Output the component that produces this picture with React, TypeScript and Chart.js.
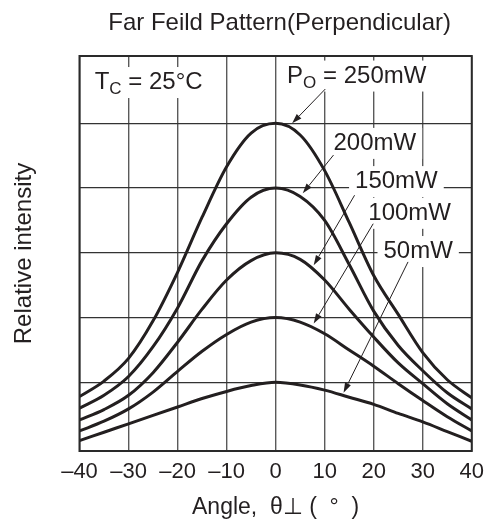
import { useEffect, useRef } from 'react';
import { Chart, registerables } from 'chart.js';

Chart.register(...registerables);

// ---- data ----
const angles = [-40, -35, -30, -25, -20, -15, -10, -5, 0, 5, 10, 15, 20, 25, 30, 35, 40];
const p250 = [0.78, 1.02, 1.37, 1.95, 2.7, 3.55, 4.33, 4.85, 5.0, 4.82, 4.27, 3.47, 2.65, 2.05, 1.46, 1.04, 0.76];
const p200 = [0.6, 0.8, 1.09, 1.55, 2.15, 2.88, 3.45, 3.86, 4.0, 3.87, 3.5, 2.82, 2.1, 1.57, 1.18, 0.84, 0.59];
const p150 = [0.42, 0.58, 0.8, 1.15, 1.62, 2.13, 2.58, 2.88, 3.0, 2.9, 2.58, 2.13, 1.7, 1.3, 0.98, 0.67, 0.42];
const p100 = [0.25, 0.4, 0.59, 0.85, 1.17, 1.48, 1.74, 1.93, 2.0, 1.93, 1.75, 1.5, 1.25, 0.98, 0.72, 0.47, 0.25];
const p50 = [0.1, 0.23, 0.36, 0.49, 0.62, 0.75, 0.86, 0.95, 1.0, 0.96, 0.88, 0.77, 0.66, 0.52, 0.39, 0.24, 0.09];
const seriesLabels = ['250mW', '200mW', '150mW', '100mW', '50mW'];
const seriesValues = [p250, p200, p150, p100, p50];
const xTickValues = [-40, -30, -20, -10, 0, 10, 20, 30, 40];
const xTickLabels = ['–40', '–30', '–20', '–10', '0', '10', '20', '30', '40'];
const yGridValues = [1, 2, 3, 4, 5];
const chartTitle = 'Far Feild Pattern(Perpendicular)';
const xTitle = 'Angle,  θ⊥ (  °  )';
const yTitle = 'Relative intensity';

// ---- annotations (data coordinates) ----
type Part = { t: string; sub?: boolean };
const notes: { parts: Part[]; x: number; y: number }[] = [
  { parts: [{ t: 'T' }, { t: 'C', sub: true }, { t: ' = 25°C' }], x: -36.9, y: 5.53 },
  { parts: [{ t: 'P' }, { t: 'O', sub: true }, { t: ' = 250mW' }], x: 2.34, y: 5.63 },
  { parts: [{ t: '200mW' }], x: 11.8, y: 4.59 },
  { parts: [{ t: '150mW' }], x: 16.2, y: 4.0 },
  { parts: [{ t: '100mW' }], x: 18.9, y: 3.51 },
  { parts: [{ t: '50mW' }], x: 22.0, y: 2.92 },
];
const arrows: number[][] = [
  [10.13, 5.53, 3.36, 5.0],
  [11.8, 4.51, 5.53, 3.92],
  [16.1, 3.89, 7.76, 2.81],
  [19.9, 3.45, 7.76, 1.91],
  [27.0, 2.86, 13.85, 0.84],
];

const FAMILY = '"Liberation Sans", Arial, Helvetica, sans-serif';
const INK = '#231f20';
const MAIN_PX = 24;
const SUB_PX = 17;

function partsWidth(ctx: CanvasRenderingContext2D, parts: Part[]) {
  let w = 0;
  for (const p of parts) {
    ctx.font = `${p.sub ? SUB_PX : MAIN_PX}px ${FAMILY}`;
    w += ctx.measureText(p.t).width;
  }
  return w;
}

const overlay = {
  id: 'overlay',
  beforeDatasetsDraw(chart: any) {
    const { ctx, scales } = chart;
    const sx = scales.x, sy = scales.y;
    ctx.save();
    ctx.fillStyle = '#ffffff';
    for (const n of notes) {
      const w = partsWidth(ctx, n.parts);
      const px = sx.getPixelForValue(n.x);
      const py = sy.getPixelForValue(n.y);
      ctx.fillRect(px - 6, py - 22, w + 12, 31);
    }
    ctx.restore();
  },
  afterDatasetsDraw(chart: any) {
    const { ctx, scales, chartArea: a } = chart;
    const sx = scales.x, sy = scales.y;
    ctx.save();
    // frame
    ctx.strokeStyle = '#2a2a2a';
    ctx.lineWidth = 2;
    ctx.strokeRect(a.left, a.top, a.right - a.left, a.bottom - a.top);
    // arrows
    ctx.strokeStyle = INK;
    ctx.fillStyle = INK;
    ctx.lineWidth = 1;
    for (const [x1, y1, x2, y2] of arrows) {
      const ax = sx.getPixelForValue(x1), ay = sy.getPixelForValue(y1);
      const bx = sx.getPixelForValue(x2), by = sy.getPixelForValue(y2);
      const ang = Math.atan2(by - ay, bx - ax);
      const L = 10, H = 3.2;
      const cx = bx - L * Math.cos(ang), cy = by - L * Math.sin(ang);
      ctx.beginPath();
      ctx.moveTo(ax, ay);
      ctx.lineTo(cx, cy);
      ctx.stroke();
      ctx.beginPath();
      ctx.moveTo(bx, by);
      ctx.lineTo(cx + H * Math.sin(ang), cy - H * Math.cos(ang));
      ctx.lineTo(cx - H * Math.sin(ang), cy + H * Math.cos(ang));
      ctx.closePath();
      ctx.fill();
    }
    // texts
    ctx.textBaseline = 'alphabetic';
    ctx.textAlign = 'left';
    for (const n of notes) {
      let px = sx.getPixelForValue(n.x);
      const py = sy.getPixelForValue(n.y);
      for (const p of n.parts) {
        ctx.font = `${p.sub ? SUB_PX : MAIN_PX}px ${FAMILY}`;
        ctx.fillText(p.t, px, p.sub ? py + 5 : py);
        px += ctx.measureText(p.t).width;
      }
    }
    ctx.restore();
  },
  afterDraw(chart: any) {
    const { ctx, chartArea: a } = chart;
    ctx.save();
    ctx.fillStyle = INK;
    ctx.font = `${MAIN_PX}px ${FAMILY}`;
    ctx.textAlign = 'center';
    ctx.textBaseline = 'middle';
    ctx.fillText(chartTitle, (a.left + a.right) / 2 + 4, 23);
    ctx.restore();
  },
};

export default function App() {
  const ref = useRef<HTMLCanvasElement | null>(null);
  useEffect(() => {
    if (!ref.current) return;
    const chart = new Chart(ref.current, {
      type: 'line',
      data: {
        datasets: seriesValues.map((vals, i) => ({
          label: seriesLabels[i],
          data: angles.map((a, j) => ({ x: a, y: vals[j] })),
          borderColor: INK,
          borderWidth: 3,
          pointRadius: 0,
          fill: false,
          cubicInterpolationMode: 'monotone' as const,
        })),
      },
      options: {
        animation: false,
        responsive: true,
        maintainAspectRatio: false,
        layout: { padding: { top: 56, right: 18, left: 0, bottom: 0 } },
        plugins: { legend: { display: false }, title: { display: false }, tooltip: { enabled: false } },
        scales: {
          x: {
            type: 'linear',
            min: -40,
            max: 40,
            afterBuildTicks: (s: any) => { s.ticks = xTickValues.map((v) => ({ value: v })); },
            afterFit: (s: any) => { s.height = 72; },
            grid: { color: '#5a5a5a', lineWidth: 1.4, drawTicks: false },
            border: { display: false },
            ticks: {
              padding: 8,
              color: INK,
              font: { family: FAMILY, size: 22 },
              maxRotation: 0,
              autoSkip: false,
              callback: (v: any) => {
                const i = xTickValues.indexOf(Number(v));
                return i >= 0 ? xTickLabels[i] : '';
              },
            },
            title: { display: true, text: xTitle, color: INK, font: { family: FAMILY, size: 23 }, padding: { top: 0, bottom: 2 } },
          },
          y: {
            type: 'linear',
            min: -0.06,
            max: 6.04,
            afterBuildTicks: (s: any) => { s.ticks = yGridValues.map((v) => ({ value: v })); },
            afterFit: (s: any) => { s.width = 79.5; },
            grid: { color: '#333333', lineWidth: 1.2, drawTicks: false },
            border: { display: false },
            ticks: { display: false },
            title: { display: true, text: yTitle, color: INK, font: { family: FAMILY, size: 24 }, padding: { top: 10, bottom: 0 } },
          },
        },
      },
      plugins: [overlay],
    });
    return () => chart.destroy();
  }, []);
  return (
    <div style={{ position: 'fixed', left: 0, top: 0, width: 492, height: 523, background: '#fff' }}>
      <canvas ref={ref} />
    </div>
  );
}
